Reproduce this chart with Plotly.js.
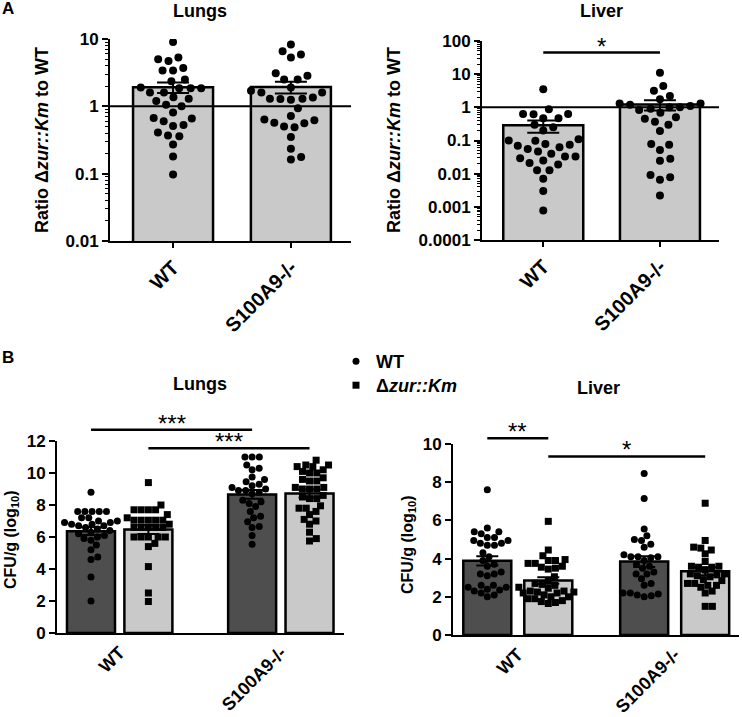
<!DOCTYPE html>
<html><head><meta charset="utf-8">
<script src="https://cdn.plot.ly/plotly-3.0.1.min.js"></script>
<style>html,body{margin:0;padding:0;background:#fff}#chart{width:742px;height:717px}</style>
</head><body><div id="chart"></div>
<script>
// ---------------- DATA ----------------
const hostGroups = ['WT', 'S100A9-/-'];
const strainNames = ['WT', 'Δ<i>zur::Km</i>'];

// Panel A: ratio Δzur::Km to WT (log scale)
const ratioLungsWT = [9.0, 4.7, 5.0, 5.3, 3.7, 3.4, 3.4, 2.35, 2.5, 1.85, 1.85, 1.85, 1.9, 1.6, 1.6, 1.3, 1.37, 1.2, 1.06, 1.0, 0.81, 0.6, 0.66, 0.67, 0.51, 0.53, 0.37, 0.41, 0.36, 0.27, 0.18, 0.097];
const ratioLungsKO = [8.3, 6.6, 5.3, 5.9, 3.1, 2.85, 2.5, 2.5, 1.9, 1.6, 1.6, 1.7, 1.3, 1.25, 1.35, 1.28, 1.3, 0.94, 0.72, 0.62, 0.49, 0.56, 0.5, 0.57, 0.64, 0.35, 0.235, 0.163, 0.177];
const ratioLiverWT = [3.5, 0.87, 0.63, 0.47, 0.47, 0.62, 0.63, 0.3, 0.25, 0.2, 0.098, 0.074, 0.063, 0.047, 0.11, 0.055, 0.069, 0.079, 0.1, 0.033, 0.029, 0.021, 0.019, 0.025, 0.033, 0.04, 0.0126, 0.0126, 0.007, 0.003, 0.00078];
const ratioLiverKO = [11, 4.4, 3.16, 2.2, 1.74, 1.3, 1.2, 1.3, 1.0, 1.1, 0.9, 0.83, 1.0, 0.69, 0.5, 0.37, 0.45, 0.3, 0.195, 0.078, 0.074, 0.052, 0.0245, 0.028, 0.0078, 0.0066, 0.0091, 0.0022];

// Panel B: CFU/g (log10); host WT / S100A9-/- infected with strain WT / Δzur::Km
const lungsHostWT_strainWT = [8.8, 7.6, 7.6, 7.6, 7.6, 7.6, 7.2, 7.0, 6.9, 6.8, 6.7, 6.7, 6.8, 6.9, 7.0, 7.2, 6.6, 6.5, 6.4, 6.3, 6.2, 6.1, 6.0, 5.9, 5.8, 5.5, 5.2, 4.75, 4.6, 3.5, 2.0];
const lungsHostWT_strainZur = [9.4, 8.0, 7.7, 7.7, 7.7, 7.7, 7.4, 7.05, 7.05, 7.05, 7.05, 7.05, 7.2, 6.8, 6.6, 6.6, 6.6, 6.6, 6.6, 6.0, 6.0, 6.0, 6.0, 6.0, 5.6, 5.4, 4.15, 2.5, 1.97];
const lungsHostKO_strainWT = [11.0, 11.0, 11.0, 10.3, 10.2, 10.5, 9.75, 9.6, 9.45, 9.3, 9.2, 9.1, 9.0, 8.9, 8.9, 8.8, 8.7, 8.3, 8.2, 8.1, 7.9, 7.6, 7.3, 7.2, 6.95, 6.65, 6.6, 6.1, 5.55];
const lungsHostKO_strainZur = [10.8, 10.5, 10.4, 10.4, 10.5, 10.1, 10.0, 10.0, 10.2, 9.6, 9.5, 9.5, 9.7, 9.1, 9.0, 9.0, 9.0, 9.1, 8.5, 8.4, 8.4, 8.6, 7.8, 7.4, 7.6, 7.8, 7.95, 7.1, 7.0, 6.8, 6.3, 5.75, 5.9];
const liverHostWT_strainWT = [7.6, 5.6, 5.4, 5.3, 5.4, 5.1, 4.95, 4.8, 4.7, 4.7, 4.8, 4.95, 5.1, 4.3, 4.1, 3.9, 3.7, 3.6, 3.3, 3.2, 3.1, 3.2, 2.6, 2.5, 2.4, 2.3, 2.35, 2.5, 2.6, 2.0, 2.2, 2.1];
const liverHostWT_strainZur = [5.95, 4.45, 4.15, 3.95, 3.9, 3.75, 3.75, 3.9, 3.6, 3.55, 3.5, 3.45, 3.05, 2.85, 2.7, 2.65, 2.6, 2.5, 2.45, 2.3, 2.25, 2.2, 2.2, 2.25, 2.3, 2.0, 1.9, 1.75, 1.8, 1.65, 1.9, 2.0, 2.1, 1.7];
const liverHostKO_strainWT = [8.45, 7.15, 5.55, 5.2, 5.0, 4.95, 4.75, 4.6, 4.2, 4.1, 4.05, 4.1, 4.1, 3.9, 3.7, 3.6, 3.5, 3.3, 3.2, 3.2, 2.95, 2.7, 2.6, 2.2, 2.15, 2.05, 2.0, 2.1, 2.2];
const liverHostKO_strainZur = [6.9, 4.95, 4.55, 4.25, 4.45, 4.6, 3.85, 3.6, 3.55, 3.6, 3.55, 3.2, 3.15, 3.05, 3.1, 3.2, 2.7, 2.6, 2.5, 2.6, 2.7, 2.3, 2.2, 1.5, 1.5, 3.4, 2.9, 2.85];

// Tick labels
const ratioLungsTicks = [0.01, 0.1, 1, 10];
const ratioLungsTickText = ['0.01', '0.1', '1', '10'];
const ratioLiverTicks = [0.0001, 0.001, 0.01, 0.1, 1, 10, 100];
const ratioLiverTickText = ['0.0001', '0.001', '0.01', '0.1', '1', '10', '100'];

// Significance annotations
const sigA = {text: '*', value: 45};
const sigLungsB = [{text: '***', value: 12.7, from: [0, 0], to: [1, 0]}, {text: '***', value: 11.55, from: [0, 1], to: [1, 1]}];
const sigLiverB = [{text: '**', value: 10.3, from: [0, 0], to: [0, 1]}, {text: '*', value: 9.35, from: [0, 1], to: [1, 1]}];

// ---------------- GEOMETRY (pixels in 742x717) ----------------
const W = 742, H = 717;
const geo = {
  aL: {x0: 110, x1: 351, y0: 39, y1: 241, xr: [-0.535, 1.51], yr: [-2, 1], log: true},
  aV: {x0: 482, x1: 719, y0: 41, y1: 240, xr: [-0.525, 1.506], yr: [-4, 2], log: true},
  bL: {x0: 57, x1: 344, y0: 441, y1: 633, xr: [-0.389, 1.392], yr: [0, 12], log: false, off: 28.7, bw: 48},
  bV: {x0: 453, x1: 739, y0: 444, y1: 635, xr: [-0.413, 1.41], yr: [0, 10], log: false, off: 30.5, bw: 48}
};
const FONT = 'Liberation Sans, Arial, sans-serif';
const DARK = '#4e4e4e', LIGHT = '#c9c9c9';

function pxX(g) { return (g.x1 - g.x0) / (g.xr[1] - g.xr[0]); }
function yPx(g, v) { const t = g.log ? Math.log10(v) : v; return (t - g.yr[0]) / (g.yr[1] - g.yr[0]) * (g.y1 - g.y0); }
function yPaper(g, v) { return 1 - (g.y1 - yPx(g, v)) / H; }
function mean(a) { return a.reduce((s, v) => s + v, 0) / a.length; }
function sem(a) { const m = mean(a); const sd = Math.sqrt(a.reduce((s, v) => s + (v - m) * (v - m), 0) / (a.length - 1)); return sd / Math.sqrt(a.length); }

// beeswarm: returns pixel x offsets
function swarm(vals, g, d) {
  const idx = vals.map((v, i) => i).sort((a, b) => vals[a] - vals[b]);
  const placed = [], out = new Array(vals.length);
  for (const i of idx) {
    const y = yPx(g, vals[i]);
    const near = placed.filter(p => Math.abs(p.y - y) < d);
    const cands = [0];
    near.forEach(p => { const dx = Math.sqrt(d * d - (p.y - y) * (p.y - y)); cands.push(p.x + dx, p.x - dx); });
    cands.sort((a, b) => Math.abs(a) - Math.abs(b));
    let x = 0;
    for (const c of cands) {
      if (near.every(p => (p.x - c) * (p.x - c) + (p.y - y) * (p.y - y) >= d * d - 1e-6)) { x = c; break; }
    }
    placed.push({x, y}); out[i] = x;
  }
  return out;
}

const traces = [];

// Panel A
function panelA(g, xa, ya, groups) {
  const ppx = pxX(g);
  traces.push({
    type: 'bar', x: [0, 1], y: groups.map(mean), width: 80 / ppx, xaxis: xa, yaxis: ya,
    marker: {color: LIGHT, line: {color: '#000', width: 2.5}},
    error_y: {type: 'data', array: groups.map(sem), color: '#000', thickness: 2, width: 16},
    showlegend: false, hoverinfo: 'skip'
  });
  groups.forEach((vals, gi) => {
    const sw = swarm(vals, g, 10.5);
    traces.push({
      type: 'scatter', mode: 'markers', xaxis: xa, yaxis: ya,
      x: vals.map((v, i) => gi + sw[i] / ppx), y: vals,
      marker: {symbol: 'circle', size: 8, color: '#000'}, showlegend: false
    });
  });
}
panelA(geo.aL, 'x', 'y', [ratioLungsWT, ratioLungsKO]);
panelA(geo.aV, 'x2', 'y2', [ratioLiverWT, ratioLiverKO]);

// Panel B
function panelB(g, xa, ya, byStrain, legend) {
  const ppx = pxX(g), off = g.off / ppx;
  const colors = [DARK, LIGHT], symbols = ['circle', 'square'];
  byStrain.forEach((groups, si) => {
    const dx = si === 0 ? -off : off;
    traces.push({
      type: 'bar', x: [0 + dx, 1 + dx], y: groups.map(mean), width: g.bw / ppx, xaxis: xa, yaxis: ya,
      marker: {color: colors[si], line: {color: '#000', width: 2.5}},
      error_y: {type: 'data', array: groups.map(sem), color: '#000', thickness: 2, width: 11},
      showlegend: false, hoverinfo: 'skip'
    });
  });
  byStrain.forEach((groups, si) => {
    const dx = si === 0 ? -off : off;
    const xs = [], ys = [];
    groups.forEach((vals, gi) => {
      const sw = swarm(vals, g, 7.2);
      vals.forEach((v, i) => { xs.push(gi + dx + sw[i] / ppx); ys.push(v); });
    });
    traces.push({
      type: 'scatter', mode: 'markers', xaxis: xa, yaxis: ya, x: xs, y: ys, name: strainNames[si],
      legend: si === 0 ? 'legend' : 'legend2',
      marker: {symbol: symbols[si], size: 7, color: '#000'}, showlegend: legend
    });
  });
}
panelB(geo.bL, 'x3', 'y3', [[lungsHostWT_strainWT, lungsHostKO_strainWT], [lungsHostWT_strainZur, lungsHostKO_strainZur]], true);
panelB(geo.bV, 'x4', 'y4', [[liverHostWT_strainWT, liverHostKO_strainWT], [liverHostWT_strainZur, liverHostKO_strainZur]], false);

// ---------------- LAYOUT ----------------
function dom(g) { return {x: [g.x0 / W, g.x1 / W], y: [1 - g.y1 / H, 1 - g.y0 / H]}; }
function minorLog(lo, hi) { const v = []; for (let e = lo; e < hi; e++) for (let k = 2; k <= 9; k++) v.push(k * Math.pow(10, e)); return v; }
const tickFont = {family: FONT, size: 17, color: '#000', weight: 'bold'};
function xAxis(g, ticks, fs) {
  return {domain: dom(g).x, range: g.xr, showline: true, linewidth: 2, linecolor: '#000', showgrid: false, zeroline: false,
    tickmode: 'array', tickvals: [0, 1], ticktext: hostGroups, tickangle: -45,
    tickfont: {family: FONT, size: fs, color: '#000', weight: 'bold'},
    ticks: ticks ? 'outside' : '', ticklen: 5, tickwidth: 2, tickcolor: '#000', fixedrange: true};
}
function yAxisLog(g, tv, tt) {
  return {domain: dom(g).y, type: 'log', range: g.yr, showline: true, linewidth: 2, linecolor: '#000', showgrid: false, zeroline: false,
    tickmode: 'array', tickvals: tv, ticktext: tt, ticks: 'outside', ticklen: 6, tickwidth: 2, tickcolor: '#000', tickfont: tickFont,
    minor: {tickmode: 'array', tickvals: minorLog(g.yr[0], g.yr[1]), ticks: 'outside', ticklen: 3, tickwidth: 1, tickcolor: '#000', showgrid: false},
    fixedrange: true};
}
function yAxisLin(g) {
  return {domain: dom(g).y, range: g.yr, dtick: 2, showline: true, linewidth: 2, linecolor: '#000', showgrid: false, zeroline: false,
    ticks: 'outside', ticklen: 6, tickwidth: 2, tickcolor: '#000', tickfont: tickFont, fixedrange: true};
}

const annotations = [];
function ann(text, x, y, size, extra) {
  annotations.push(Object.assign({text, x: x / W, y: 1 - y / H, xref: 'paper', yref: 'paper', showarrow: false,
    xanchor: 'center', yanchor: 'middle', font: {family: FONT, size, color: '#000', weight: 'bold'}}, extra || {}));
}
ann('A', 8, 9, 17);
ann('B', 8, 357, 17);
ann('Lungs', 200, 11, 18);
ann('Liver', 601, 11, 18);
ann('Lungs', 200, 384, 18);
ann('Liver', 598, 388, 18);
ann('Ratio Δ<i>zur::Km</i> to WT', 42, 140, 18, {textangle: -90});
ann('Ratio Δ<i>zur::Km</i> to WT', 394, 140, 18, {textangle: -90});
ann('CFU/g (log<sub>10</sub>)', 11, 540, 16, {textangle: -90});
ann('CFU/g (log<sub>10</sub>)', 408, 545, 16, {textangle: -90});

const shapes = [];
// reference line at ratio 1
['x', 'x2'].forEach((xa, i) => shapes.push({type: 'line', xref: xa + ' domain', x0: 0, x1: 1, yref: i ? 'y2' : 'y', y0: 1, y1: 1, line: {color: '#000', width: 2}}));
// significance bars
function sigLine(g, xa, xA, xB, s) {
  const yp = yPaper(g, s.value);
  shapes.push({type: 'line', xref: xa, yref: 'paper', x0: xA, x1: xB, y0: yp, y1: yp, line: {color: '#000', width: 2.5}});
  annotations.push({text: s.text, xref: xa, yref: 'paper', x: (xA + xB) / 2, y: yp, showarrow: false, yanchor: 'bottom', yshift: -9,
    font: {family: FONT, size: 24, color: '#000'}});
}
sigLine(geo.aV, 'x2', 0, 1, sigA);
function sigB(list, g, xa) {
  const off = g.off / pxX(g);
  list.forEach(s => {
    const xA = s.from[0] + (s.from[1] ? off : -off), xB = s.to[0] + (s.to[1] ? off : -off);
    sigLine(g, xa, xA, xB, s);
  });
}
sigB(sigLungsB, geo.bL, 'x3');
sigB(sigLiverB, geo.bV, 'x4');

const legendFont = {family: FONT, size: 18, color: '#000', weight: 'bold'};
const layout = {
  width: W, height: H, margin: {l: 0, r: 0, t: 0, b: 0}, paper_bgcolor: '#fff', plot_bgcolor: 'rgba(0,0,0,0)',
  barmode: 'overlay', font: {family: FONT, color: '#000'},
  xaxis: xAxis(geo.aL, true, 20), yaxis: yAxisLog(geo.aL, ratioLungsTicks, ratioLungsTickText),
  xaxis2: Object.assign(xAxis(geo.aV, true, 20), {anchor: 'y2'}), yaxis2: Object.assign(yAxisLog(geo.aV, ratioLiverTicks, ratioLiverTickText), {anchor: 'x2'}),
  xaxis3: Object.assign(xAxis(geo.bL, false, 18), {anchor: 'y3'}), yaxis3: Object.assign(yAxisLin(geo.bL), {anchor: 'x3'}),
  xaxis4: Object.assign(xAxis(geo.bV, false, 18), {anchor: 'y4'}), yaxis4: Object.assign(yAxisLin(geo.bV), {anchor: 'x4'}),
  showlegend: true,
  legend: {x: 336 / W, y: 1 - 343 / H, xanchor: 'left', yanchor: 'top', bgcolor: 'rgba(0,0,0,0)', borderwidth: 0, font: legendFont, itemclick: false},
  legend2: {x: 336 / W, y: 1 - 367 / H, xanchor: 'left', yanchor: 'top', bgcolor: 'rgba(0,0,0,0)', borderwidth: 0, font: legendFont, itemclick: false},
  annotations, shapes
};
Plotly.newPlot('chart', traces, layout, {staticPlot: true, displayModeBar: false});
</script>
</body></html>
